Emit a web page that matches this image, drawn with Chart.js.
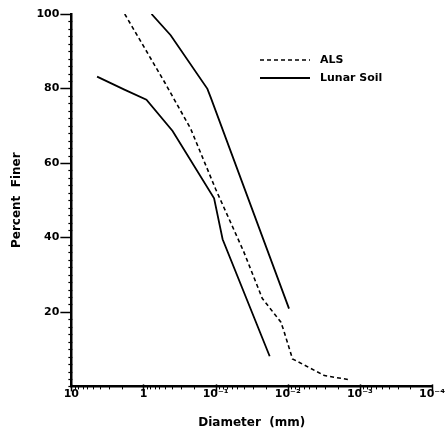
<!DOCTYPE html>
<html>
<head>
<meta charset="utf-8">
<script src="https://cdn.jsdelivr.net/npm/chart.js@4/dist/chart.umd.min.js"></script>
<style>
  html, body { margin: 0; padding: 0; background: #fff; }
  #wrap { width: 448px; height: 432px; position: relative; }
</style>
</head>
<body>
<div id="wrap"><canvas id="c" width="448" height="432"></canvas></div>
<script>
// Grain-size distributions (diameter in mm, percent finer)
const alsDiameter   = [1.82, 0.5, 0.222, 0.1, 0.0408, 0.0225, 0.0125, 0.0114, 0.0086, 0.0031, 0.0014];
const alsPercent    = [100, 81.4, 69.2, 53.0, 36.2, 23.6, 17.3, 15.1, 7.4, 2.9, 1.8];

const lunarLowDiameter = [4.4, 1.84, 0.91, 0.395, 0.105, 0.08, 0.0178];
const lunarLowPercent  = [83.2, 79.7, 77.0, 68.6, 50.5, 39.5, 8.1];

const lunarHighDiameter = [0.774, 0.42, 0.130, 0.117, 0.0096];
const lunarHighPercent  = [100, 94.3, 79.9, 77.6, 20.9];

const xTickValues = [10, 1, 0.1, 0.01, 0.001, 0.0001];
const xTickLabels = ['10', '1', '10\u207B\u00B9', '10\u207B\u00B2', '10\u207B\u00B3', '10\u207B\u2074'];
const yTickValues = [20, 40, 60, 80, 100];
const yTickLabels = ['20', '40', '60', '80', '100'];

const seriesLabels = ['ALS', 'Lunar Soil'];

function pts(xs, ys) { return xs.map((x, i) => ({ x: x, y: ys[i] })); }

const FONT = '"DejaVu Sans", sans-serif';

// Draws minor/major tick marks through the chart's scales, plus the in-chart legend
const decorPlugin = {
  id: 'decor',
  afterDraw(chart) {
    const ctx = chart.ctx;
    const xs = chart.scales.x, ys = chart.scales.y;
    const left = chart.chartArea.left, bottom = chart.chartArea.bottom;
    ctx.save();
    ctx.strokeStyle = '#000';
    // y ticks
    for (let v = 0; v <= 100; v += 2) {
      const py = Math.round(ys.getPixelForValue(v)) + 0.5;
      ctx.beginPath();
      if (yTickValues.includes(v)) {
        ctx.lineWidth = 1.5;
        ctx.moveTo(left - 11, py); ctx.lineTo(left, py);
      } else {
        ctx.lineWidth = 1.2;
        ctx.moveTo(left - 3, py); ctx.lineTo(left + 1, py);
      }
      ctx.stroke();
    }
    // x ticks (log decades with minors)
    for (let e = -4; e <= 0; e++) {
      for (let m = 1; m <= 9; m++) {
        const v = m * Math.pow(10, e);
        const px = Math.round(xs.getPixelForValue(v)) + 0.5;
        ctx.beginPath();
        if (m === 1) {
          ctx.lineWidth = 1.5;
          ctx.moveTo(px, bottom - 2); ctx.lineTo(px, bottom + 5);
        } else {
          ctx.lineWidth = 1;
          ctx.moveTo(px, bottom); ctx.lineTo(px, bottom + 3);
        }
        ctx.stroke();
      }
    }
    {
      const px = Math.round(xs.getPixelForValue(10)) + 0.5;
      ctx.beginPath(); ctx.lineWidth = 1.5;
      ctx.moveTo(px, bottom - 2); ctx.lineTo(px, bottom + 5); ctx.stroke();
    }
    // legend
    const lx0 = 260, lx1 = 310, tx = 320;
    const rows = [{ y: 60, ds: chart.data.datasets[0] }, { y: 78, ds: chart.data.datasets[1] }];
    ctx.font = 'bold 11px ' + FONT;
    ctx.fillStyle = '#000';
    ctx.textBaseline = 'middle';
    rows.forEach(r => {
      ctx.beginPath();
      ctx.lineWidth = r.ds.borderWidth;
      ctx.setLineDash(r.ds.borderDash || []);
      ctx.moveTo(lx0, r.y); ctx.lineTo(lx1, r.y);
      ctx.stroke();
      ctx.setLineDash([]);
      ctx.fillText(r.ds.label, tx, r.y);
    });
    ctx.restore();
  }
};

new Chart(document.getElementById('c'), {
  type: 'line',
  data: {
    datasets: [
      {
        label: seriesLabels[0],
        data: pts(alsDiameter, alsPercent),
        borderColor: '#000', borderWidth: 1.6, borderDash: [4, 3],
        pointRadius: 0, fill: false, tension: 0
      },
      {
        label: seriesLabels[1],
        data: pts(lunarLowDiameter, lunarLowPercent),
        borderColor: '#000', borderWidth: 1.8,
        pointRadius: 0, fill: false, tension: 0
      },
      {
        label: seriesLabels[1] + ' (upper)',
        data: pts(lunarHighDiameter, lunarHighPercent),
        borderColor: '#000', borderWidth: 1.8,
        pointRadius: 0, fill: false, tension: 0
      }
    ]
  },
  options: {
    responsive: false,
    animation: false,
    devicePixelRatio: 1,
    layout: { padding: { left: 10, top: 14, right: 16, bottom: 2 } },
    plugins: { legend: { display: false }, tooltip: { enabled: false } },
    scales: {
      x: {
        type: 'logarithmic',
        reverse: true,
        min: 0.0001, max: 10,
        afterBuildTicks(scale) { scale.ticks = xTickValues.map(v => ({ value: v })); },
        ticks: {
          autoSkip: false, maxRotation: 0, padding: 1,
          color: '#000', font: { family: FONT, size: 11, weight: 'bold' },
          callback(value) { const i = xTickValues.indexOf(value); return i >= 0 ? xTickLabels[i] : ''; }
        },
        grid: { display: false, drawTicks: false },
        border: { display: true, color: '#000', width: 2.5 },
        title: {
          display: true, text: 'Diameter  (mm)', color: '#000',
          font: { family: FONT, size: 12, weight: 'bold' }, padding: { top: 14, bottom: 0 }
        }
      },
      y: {
        type: 'linear',
        min: 0, max: 100,
        afterBuildTicks(scale) { scale.ticks = yTickValues.map(v => ({ value: v })); },
        afterFit(scale) { scale.paddingTop = 0; scale.paddingBottom = 0; },
        ticks: {
          padding: 12, color: '#000', font: { family: FONT, size: 11, weight: 'bold' },
          callback(value) { const i = yTickValues.indexOf(value); return i >= 0 ? yTickLabels[i] : ''; }
        },
        grid: { display: false, drawTicks: false },
        border: { display: true, color: '#000', width: 2.5 },
        title: {
          display: true, text: 'Percent  Finer', color: '#000',
          font: { family: FONT, size: 12, weight: 'bold' }, padding: { top: 0, bottom: 0 }
        }
      }
    }
  },
  plugins: [decorPlugin]
});
</script>
</body>
</html>
